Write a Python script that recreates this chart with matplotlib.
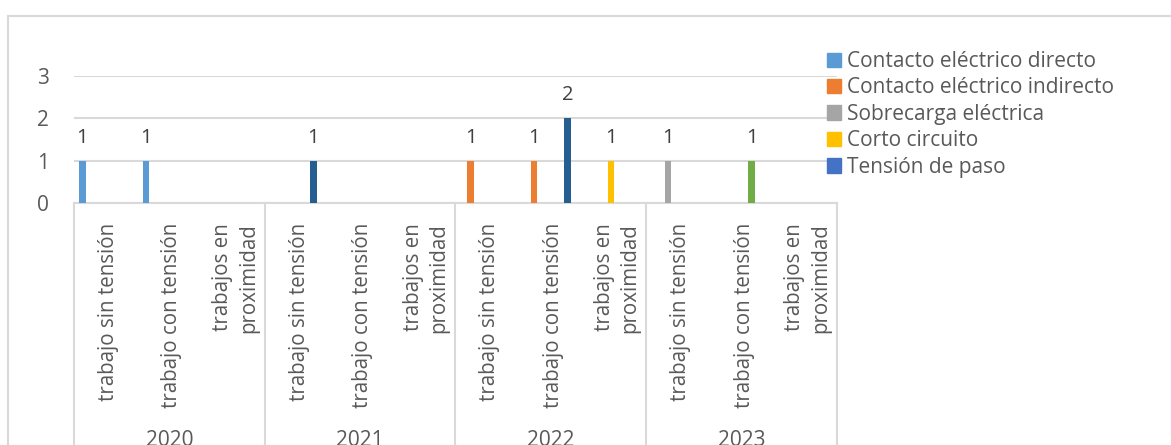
import matplotlib.pyplot as plt
import numpy as np
from matplotlib.patches import Patch

# categories (year / type of work)
years = ['2020', '2021', '2022', '2023']
work_types = ['trabajo sin tensión', 'trabajo con tensión', 'trabajos en\nproximidad']

# series (one value per year x work type, 12 categories)
series_names = ['Contacto eléctrico directo', 'Contacto eléctrico indirecto',
                'Sobrecarga eléctrica', 'Corto circuito', 'Tensión de paso',
                'Serie 6', 'Serie 7', 'Serie 8']
contacto_directo = [1, 1, 0, 0, 0, 0, 0, 0, 0, 0, 0, 0]
contacto_indirecto = [0, 0, 0, 0, 0, 0, 1, 1, 0, 0, 0, 0]
sobrecarga = [0, 0, 0, 0, 0, 0, 0, 0, 0, 1, 0, 0]
corto_circuito = [0, 0, 0, 0, 0, 0, 0, 0, 1, 0, 0, 0]
tension_paso = [0, 0, 0, 0, 0, 0, 0, 0, 0, 0, 0, 0]
serie_6 = [0, 0, 0, 0, 0, 0, 0, 0, 0, 0, 1, 0]
serie_7 = [0, 0, 0, 1, 0, 0, 0, 2, 0, 0, 0, 0]
serie_8 = [0, 0, 0, 0, 0, 0, 0, 0, 0, 0, 0, 0]
values = [contacto_directo, contacto_indirecto, sobrecarga, corto_circuito,
          tension_paso, serie_6, serie_7, serie_8]
colors = ['#5B9BD5', '#ED7D31', '#A5A5A5', '#FFC000', '#4472C4',
          '#70AD47', '#255E91', '#9E480E']

plt.rcParams['font.family'] = ['Open Sans', 'DejaVu Sans']
txt = '#595959'
grid = '#D9D9D9'

W, H = 1171, 445
fig = plt.figure(figsize=(W / 100, H / 100), dpi=100)
# plot area in pixels: x 74..837, y 76..203 (from top)
ax = fig.add_axes([74 / W, 1 - 203 / H, (837 - 74) / W, (203 - 76) / H])

n_cat = len(years) * len(work_types)
x = np.arange(n_cat)
n_ser = len(values)
w = 1 / (n_ser + 1.5)  # Excel gap width 150%

for k, (name, vals, c) in enumerate(zip(series_names, values, colors)):
    pos = x - 0.5 + 0.75 * w + (k + 0.5) * w
    ax.bar(pos, vals, width=w, color=c, zorder=3)
    for p, v in zip(pos, vals):
        if v > 0:
            ax.annotate(str(v), (p, v), xytext=(0, 23), textcoords='offset pixels',
                        ha='center', va='center', fontsize=14.5, color='#404040')

ax.set_xlim(-0.5, n_cat - 0.5)
ax.set_ylim(0, 3)
ax.set_yticks([0, 1, 2, 3])
ax.tick_params(axis='y', length=0, pad=18, labelsize=15, labelcolor=txt)
ax.set_xticks([])
ax.yaxis.grid(True, color=grid, lw=1.5, zorder=0)
for s in ['top', 'right', 'left']:
    ax.spines[s].set_visible(False)
ax.spines['bottom'].set_color(grid)
ax.spines['bottom'].set_linewidth(1.5)

# multi-level category axis
tr = ax.get_xaxis_transform()
for b in np.arange(-0.5, n_cat, len(work_types)):
    ax.plot([b, b], [0, -2.2], transform=tr, color=grid, lw=1.5, clip_on=False)
lab_y = -(223 - 203) / 127
for i in range(n_cat):
    ax.text(i + 0.04, lab_y, work_types[i % len(work_types)], transform=tr, rotation=90,
            ha='center', va='top', multialignment='right', fontsize=14.8,
            color=txt, linespacing=1.3)
year_y = -(430 - 203) / 127
for j, yr in enumerate(years):
    ax.text(j * 3 + 1, year_y, yr, transform=tr, ha='center', va='top',
            fontsize=15, color=txt)

# chart border (extends past the right and bottom edges)
fig.add_artist(plt.Line2D([7.5 / W, 7.5 / W], [0, 1 - 16 / H], color=grid, lw=1.5))
fig.add_artist(plt.Line2D([7.5 / W, 1], [1 - 16 / H, 1 - 16 / H], color=grid, lw=1.5))

handles = [Patch(color=c) for c in colors[:5]]
fig.legend(handles, series_names[:5], loc='upper left',
           bbox_to_anchor=(827 / W, 1 - 51 / H), frameon=False, fontsize=15,
           labelcolor=txt, handlelength=0.68, handleheight=0.68,
           handletextpad=0.3, labelspacing=0.26, borderpad=0, borderaxespad=0)

fig.savefig('out.png', dpi=100)
